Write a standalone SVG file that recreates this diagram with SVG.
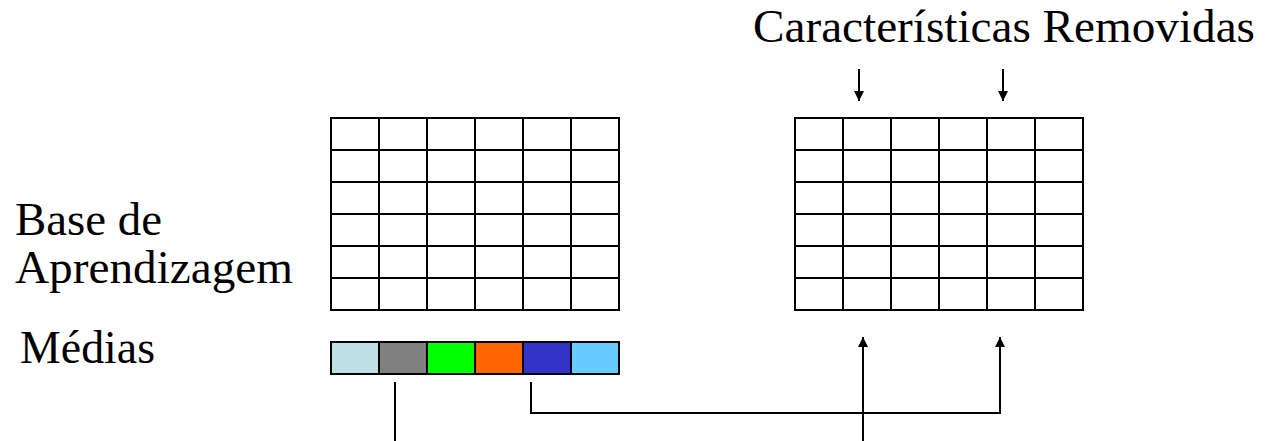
<svg xmlns="http://www.w3.org/2000/svg" width="1265" height="441" viewBox="0 0 1265 441">
<style>
.t{font-family:'Liberation Serif','Times New Roman',serif;font-size:46px;fill:#000}
.g{fill:#fff;stroke:#000;stroke-width:2}
.c{stroke:#000;stroke-width:2;fill:none}
.b{stroke:#000;stroke-width:2}
</style>
<defs>
<marker id="ah" viewBox="0 0 10 14" refX="10" refY="7" markerWidth="10" markerHeight="14" markerUnits="userSpaceOnUse" orient="auto">
<path d="M0,2 L10,7 L0,12 Z" fill="#000"/>
</marker>
</defs>
<rect width="1265" height="441" fill="#fff"/>
<g id="title"><text class="t" x="753" y="42" textLength="502" lengthAdjust="spacingAndGlyphs">Características Removidas</text></g>
<g id="label-base"><text class="t" x="15" y="235" textLength="147" lengthAdjust="spacingAndGlyphs">Base de</text><text class="t" x="15" y="283" textLength="278" lengthAdjust="spacingAndGlyphs">Aprendizagem</text></g>
<g id="label-medias"><text class="t" x="20" y="363" textLength="135" lengthAdjust="spacingAndGlyphs">Médias</text></g>
<g id="grid-left">
<rect class="g" x="331" y="118" width="288" height="192"/>
<path class="c" d="M379,118V310M427,118V310M475,118V310M523,118V310M571,118V310M331,150H619M331,182H619M331,214H619M331,246H619M331,278H619"/>
</g>
<g id="grid-right">
<rect class="g" x="795" y="118" width="288" height="192"/>
<path class="c" d="M843,118V310M891,118V310M939,118V310M987,118V310M1035,118V310M795,150H1083M795,182H1083M795,214H1083M795,246H1083M795,278H1083"/>
</g>
<g id="medias-bar">
<rect x="331" y="342" width="48" height="32" fill="#bde0e4" class="b"/>
<rect x="379" y="342" width="48" height="32" fill="#808080" class="b"/>
<rect x="427" y="342" width="48" height="32" fill="#00ff00" class="b"/>
<rect x="475" y="342" width="48" height="32" fill="#ff6600" class="b"/>
<rect x="523" y="342" width="48" height="32" fill="#3333cc" class="b"/>
<rect x="571" y="342" width="48" height="32" fill="#66ccff" class="b"/>
</g>
<g id="connectors">
<line class="c" x1="859" y1="69" x2="859" y2="101" marker-end="url(#ah)"/>
<line class="c" x1="1003" y1="69" x2="1003" y2="101" marker-end="url(#ah)"/>
<line class="c" x1="395" y1="382" x2="395" y2="441"/>
<polyline class="c" points="531,382 531,413 1000,413 1000,337" marker-end="url(#ah)"/>
<line class="c" x1="863" y1="441" x2="863" y2="337" marker-end="url(#ah)"/>
</g>
</svg>
